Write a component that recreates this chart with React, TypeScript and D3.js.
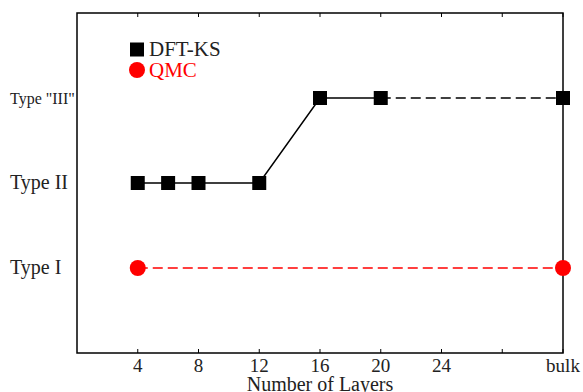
import React from "react";
import * as d3 from "d3";

const dftSolidX = [4, 6, 8, 12, 16, 20];
const dftSolidY = [2, 2, 2, 2, 3, 3];
const dftDashX = [20, 32];
const dftDashY = [3, 3];
const qmcX = [4, 32];
const qmcY = [1, 1];
const xTicks = [4, 8, 12, 16, 20, 24, 28, 32];
const xTickLabels = ["4", "8", "12", "16", "20", "24", "", "bulk"];
const yTicks = [1, 2, 3];
const yTickLabels = ["Type I", "Type II", "Type \"III\""];

const W = 583, H = 392;
const L = 77, R = 563, T = 13, B = 353;

export default function App() {
  const x = d3.scaleLinear().domain([0, 32]).range([L, R]);
  const y = d3.scaleLinear().domain([0, 4]).range([B, T]);
  const line = d3.line<[number, number]>().x(d => x(d[0])).y(d => y(d[1]));
  const zip = (a: number[], b: number[]) => a.map((v, i) => [v, b[i]] as [number, number]);
  const font = "'Liberation Serif', 'Times New Roman', serif";
  const sq = 14;
  return (
    <svg width={W} height={H} style={{ position: "absolute", left: 0, top: 0 }} fontFamily={font}>
      <rect x={0} y={0} width={W} height={H} fill="white" />
      <rect x={L} y={T} width={R - L} height={B - T} fill="none" stroke="black" strokeWidth={1.5} />
      {xTicks.map((t, i) => (
        <g key={i}>
          <line x1={x(t)} x2={x(t)} y1={B} y2={B - 4} stroke="black" strokeWidth={1} />
          <line x1={x(t)} x2={x(t)} y1={T} y2={T + 4} stroke="black" strokeWidth={1} />
          <text x={x(t)} y={B + 19} textAnchor="middle" fontSize={19} fill="#222">{xTickLabels[i]}</text>
        </g>
      ))}
      {yTicks.map((t, i) => (
        <text key={i} x={10} y={y(t) + (i === 2 ? 6 : 6)} fontSize={i === 2 ? 16 : 20} fill="#222">{yTickLabels[i]}</text>
      ))}
      <text x={(L + R) / 2} y={391} textAnchor="middle" fontSize={20} fill="#222">Number of Layers</text>
      <path d={line(zip(dftSolidX, dftSolidY)) || ""} fill="none" stroke="black" strokeWidth={1.5} />
      <path d={line(zip(dftDashX, dftDashY)) || ""} fill="none" stroke="black" strokeWidth={1.5} strokeDasharray="10,5" />
      <path d={line(zip(qmcX, qmcY)) || ""} fill="none" stroke="red" strokeWidth={1.5} strokeDasharray="10,5" />
      {zip(dftSolidX, dftSolidY).concat([[dftDashX[1], dftDashY[1]]]).map((d, i) => (
        <rect key={i} x={x(d[0]) - sq / 2} y={y(d[1]) - sq / 2} width={sq} height={sq} fill="black" />
      ))}
      {zip(qmcX, qmcY).map((d, i) => (
        <circle key={i} cx={x(d[0])} cy={y(d[1])} r={8} fill="red" />
      ))}
      <rect x={130} y={42.5} width={14} height={14} fill="black" />
      <text x={149} y={56} fontSize={21} fill="#222">DFT-KS</text>
      <circle cx={137} cy={70} r={8} fill="red" />
      <text x={149} y={77} fontSize={21} fill="red">QMC</text>
    </svg>
  );
}
